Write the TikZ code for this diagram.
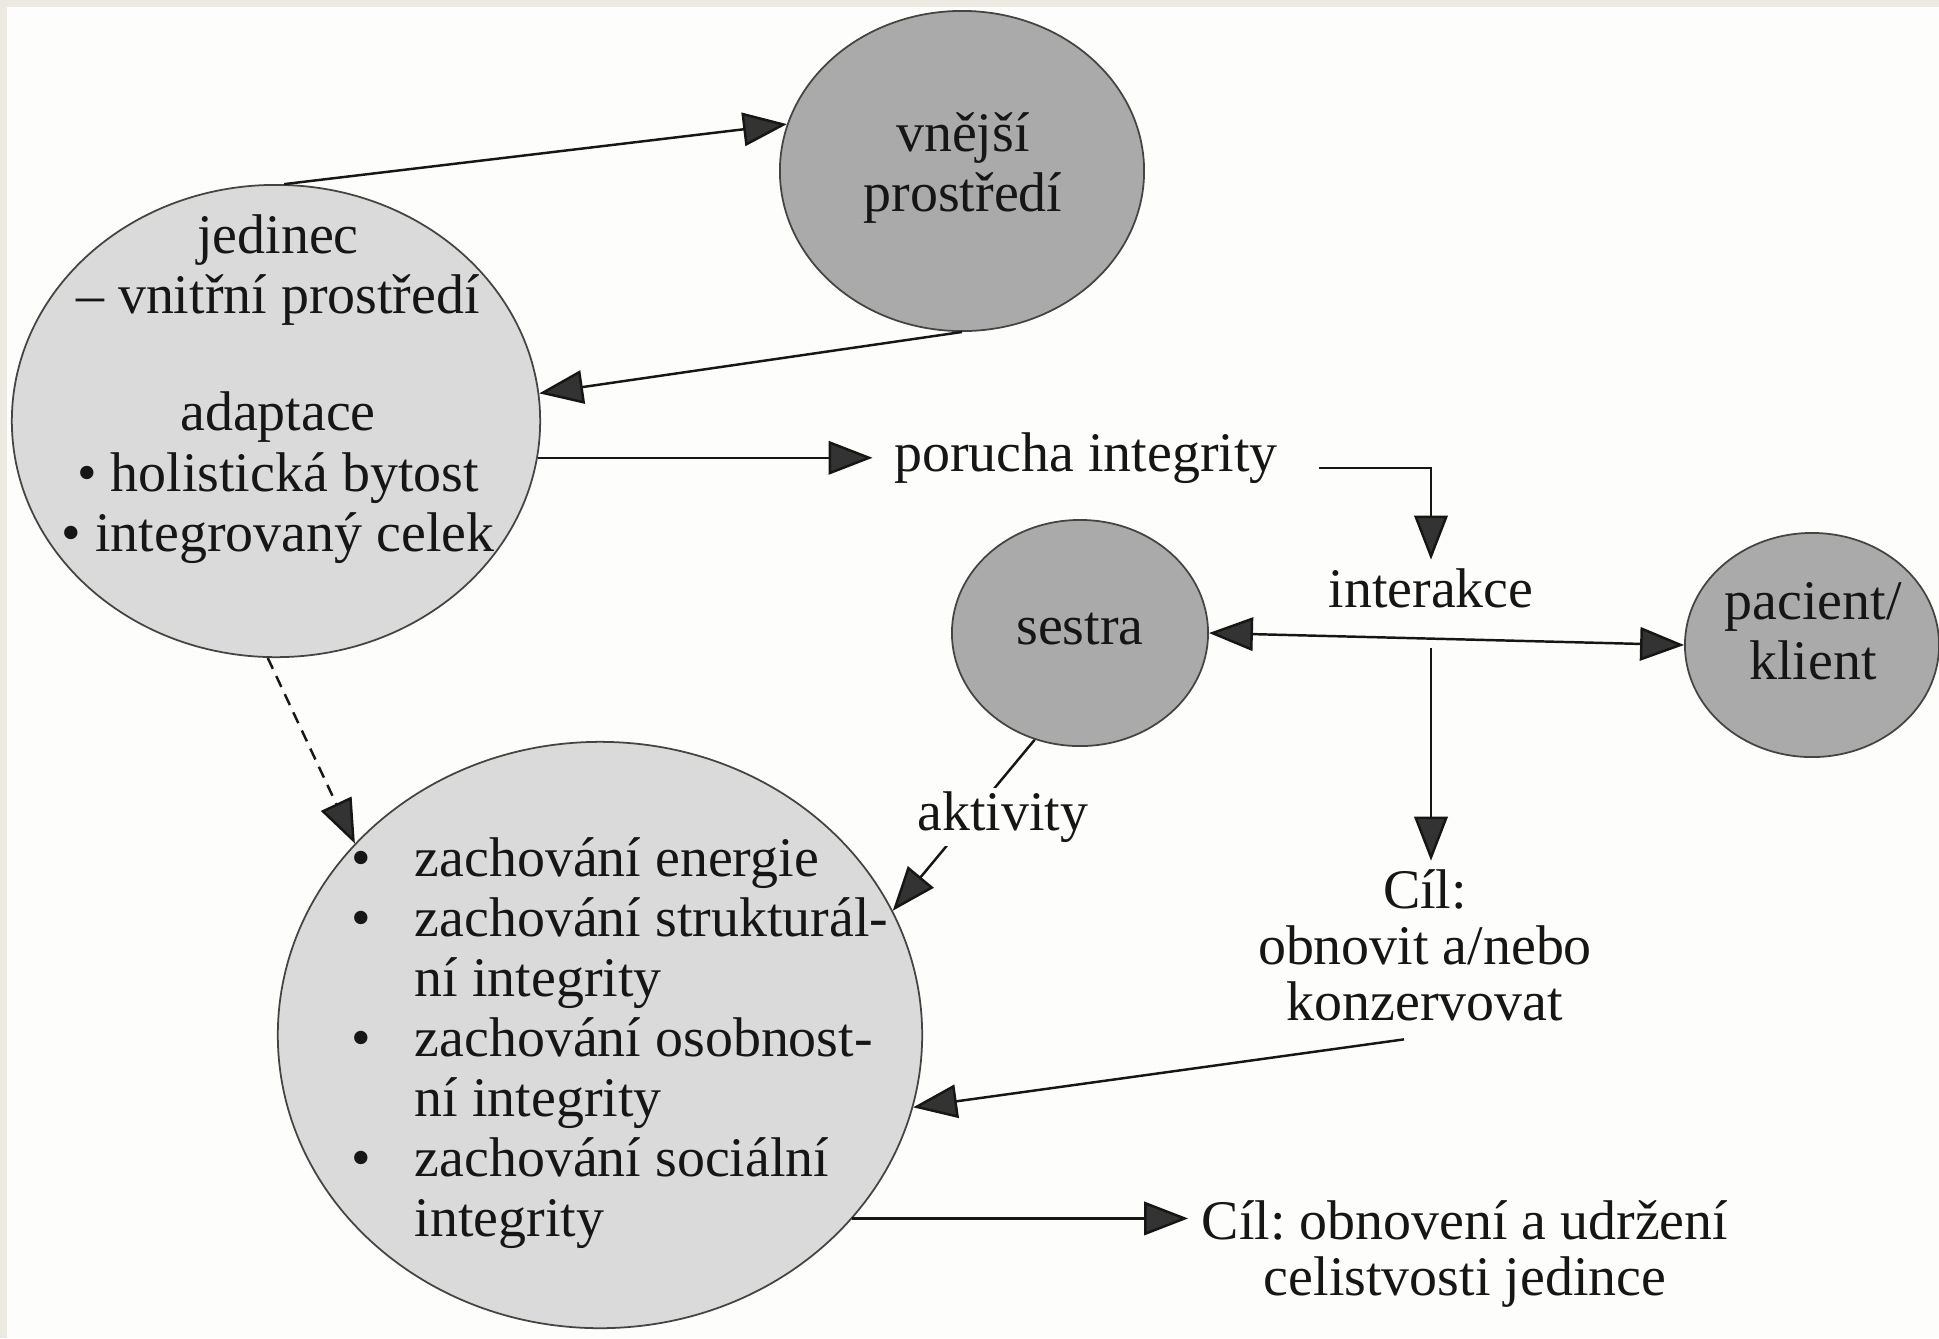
\documentclass[tikz,border=0pt]{standalone}
\usepackage{fontspec}
\setmainfont{Liberation Serif}
\usetikzlibrary{shapes.geometric,arrows.meta,calc}
\frenchspacing
\definecolor{bgcol}{HTML}{FDFDFB}
\definecolor{stripcol}{HTML}{ECE9E2}
\definecolor{darkfill}{HTML}{AAAAAA}
\definecolor{lightfill}{HTML}{DADADA}
\definecolor{edgecol}{HTML}{444444}
\definecolor{inkcol}{HTML}{161616}
\definecolor{headcol}{HTML}{333333}
\newlength{\bulw}\setlength{\bulw}{0.63cm}
\tikzset{
  mytip/.tip={Triangle[length=12.5pt,width=9.5pt,fill=headcol]},
  blob/.style={ellipse, draw=edgecol, line width=0.5pt, inner sep=0pt},
  darkblob/.style={blob, fill=darkfill},
  lightblob/.style={blob, fill=lightfill},
  txt/.style={font=\fontsize{15.9}{17.1}\selectfont, inner sep=0.08cm, align=center, text=inkcol},
  txtc/.style={txt, font=\fontsize{15.9}{15.9}\selectfont},
  conn/.style={draw=inkcol, line width=0.7pt, -mytip},
  conntwo/.style={draw=inkcol, line width=0.7pt, mytip-mytip},
  dashline/.style={dash pattern=on 3.4pt off 2.3pt}
}
\begin{document}
\begin{tikzpicture}[x=0.01cm,y=-0.01cm]
\fill[bgcol] (0,0) rectangle (1939,1338);
\fill[stripcol] (0,0) rectangle (7,1338);
\fill[stripcol] (0,0) rectangle (1939,7);
\useasboundingbox (0,0) rectangle (1939,1338);

% circles
\node[darkblob, minimum width=3.64cm, minimum height=3.20cm] (vne) at (962,171) {};
\node[lightblob, minimum width=5.28cm, minimum height=4.72cm] (jed) at (276,421) {};
\node[darkblob, minimum width=2.56cm, minimum height=2.26cm] (ses) at (1080,633) {};
\node[darkblob, minimum width=2.54cm, minimum height=2.24cm] (pac) at (1812,645) {};
\node[lightblob, minimum width=6.44cm, minimum height=5.86cm] (bot) at (600,1035) {};

% texts
\node[txt] (vnet) at (963,168) {vnější\\prostředí};
\node[txt] (jedt) at (278,389) {jedinec\\– vnitřní prostředí\\[16.2pt]adaptace\\• holistická bytost\\• integrovaný celek};
\node[txt] (sest) at (1080,629) {sestra};
\node[txt] (pact) at (1813,631) {pacient/\\klient};
\node[txt, inner xsep=0.21cm] (por) at (1086,458) {porucha integrity};
\node[txt] (int) at (1431,588) {interakce};
\node[txtc] (cil1) at (1425,945) {Cíl:\\obnovit a/nebo\\konzervovat};
\node[txtc, inner xsep=0.13cm] (cil2) at (1465,1254) {Cíl: obnovení a udržení\\celistvosti jedince};
\node[txt, align=left, anchor=west, inner sep=0pt] (bott) at (351,1043) {%
\makebox[\bulw][l]{•}zachování energie\\
\makebox[\bulw][l]{•}zachování strukturál-\\
\hspace*{\bulw}ní integrity\\
\makebox[\bulw][l]{•}zachování osobnost-\\
\hspace*{\bulw}ní integrity\\
\makebox[\bulw][l]{•}zachování sociální\\
\hspace*{\bulw}integrity};

% connectors
\draw[conn] (jed.88) -- (vne.165);
\draw[conn] (vne.south) -- (jed.6);
\draw[conn] (jed.-8) -- (jed.-8 -| por.west);
\draw[conn] ([xshift=0.2cm,yshift=-0.1cm]por.east) -| (int.north);
\draw[conntwo] (ses.east) -- (pac.west);
\coordinate (split) at (1431,648);
\draw[conn] (split) -- (split |- cil1.north);
\draw[conn] ([xshift=-0.21cm,yshift=-0.1cm]cil1.south) -- (bot.-13);
\draw[conn] (ses.247) -- (bot.23);
\draw[conn, dashline] (jed.-92) -- (bot.142);
\draw[conn] (bot.-36) -- (bot.-36 -| cil2.west);
\node[txt, fill=bgcol, inner sep=1pt] (akt) at (1003,817) {aktivity};
\end{tikzpicture}
\end{document}
